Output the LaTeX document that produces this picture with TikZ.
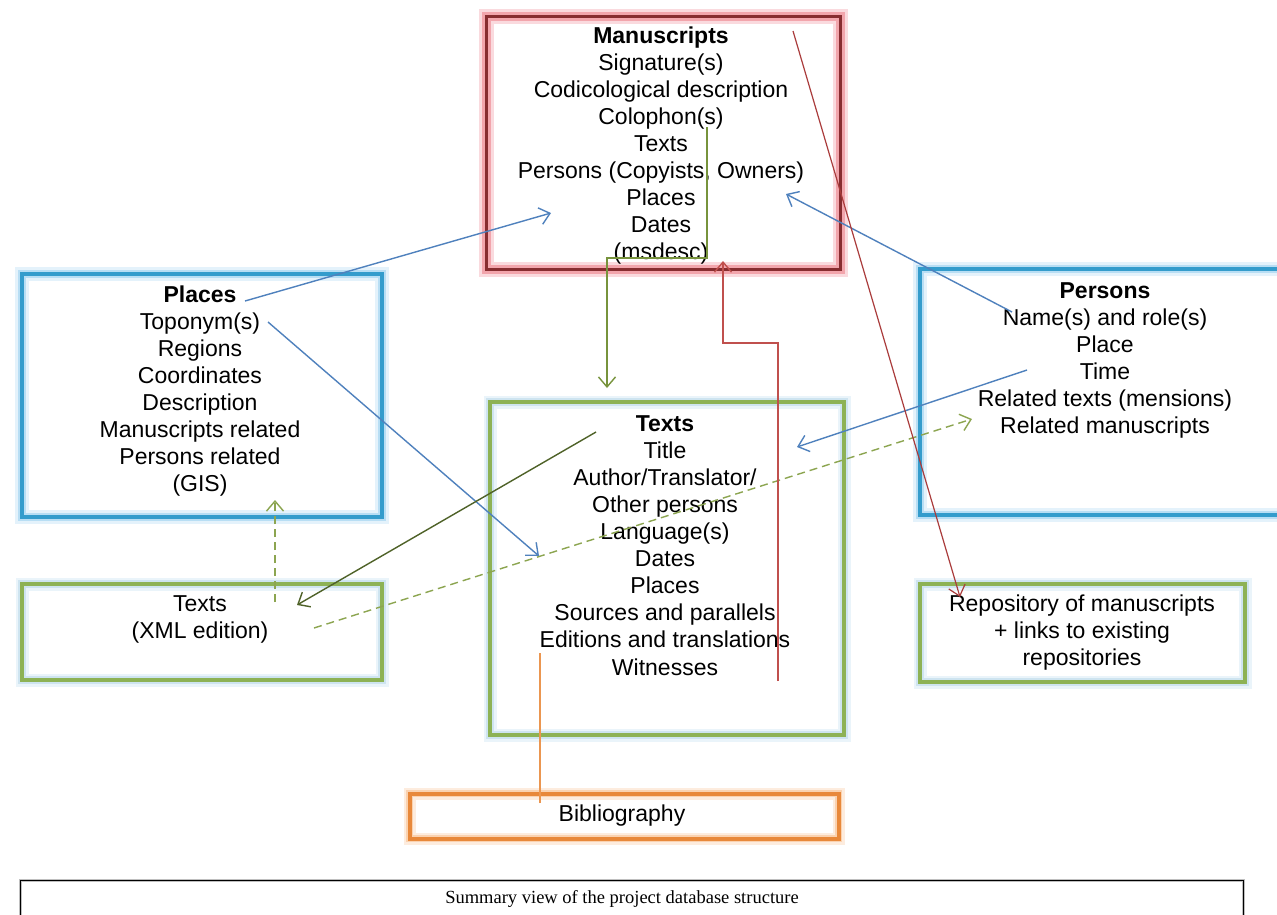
\documentclass[tikz,border=0pt]{standalone}
\usepackage{fontspec}
\setmainfont{Liberation Sans}
\newfontfamily\capfont{Liberation Serif}
\usetikzlibrary{arrows.meta}
\definecolor{bred}{RGB}{135,45,48}
\definecolor{gred}{RGB}{242,165,172}
\definecolor{gred2}{RGB}{250,218,222}
\definecolor{bblue}{RGB}{52,156,204}
\definecolor{gblue}{RGB}{184,222,244}
\definecolor{gblue2}{RGB}{228,242,251}
\definecolor{bgreen}{RGB}{141,178,85}
\definecolor{ggreen}{RGB}{206,228,240}
\definecolor{ggreen2}{RGB}{234,244,250}
\definecolor{borange}{RGB}{232,136,58}
\definecolor{gorange}{RGB}{250,210,176}
\definecolor{gorange2}{RGB}{253,236,222}
\definecolor{lblue}{RGB}{79,129,189}
\definecolor{lolive}{RGB}{119,147,60}
\definecolor{ldgreen}{RGB}{79,98,40}
\definecolor{ldash}{RGB}{140,165,80}
\definecolor{lred}{RGB}{170,60,60}
\definecolor{lred2}{RGB}{192,80,77}
\definecolor{lorange}{RGB}{235,150,80}
\begin{document}
\begin{tikzpicture}[x=1pt,y=-1pt,
  box/.style={rectangle,inner sep=0pt,anchor=north west},
  redbox/.style={box,draw=bred,line width=2.6pt,preaction={draw=gred2,line width=15pt},preaction={draw=gred,line width=9pt}},
  bluebox/.style={box,draw=bblue,line width=4pt,preaction={draw=gblue2,line width=14pt},preaction={draw=gblue,line width=8pt}},
  greenbox/.style={box,draw=bgreen,line width=4pt,preaction={draw=ggreen2,line width=13pt},preaction={draw=ggreen,line width=8pt}},
  orangebox/.style={box,draw=borange,line width=3.5pt,preaction={draw=gorange2,line width=12pt},preaction={draw=gorange,line width=7pt}},
  txt/.style={align=center,inner sep=0pt,anchor=north,font=\fontsize{23}{27.1}\selectfont},
  conn/.style={line width=1.4pt,-{Straight Barb[length=10pt,width=17pt]}},
  bluearrow/.style={conn,draw=lblue},
  plain/.style={line width=1.4pt}
]
\useasboundingbox (0,0) rectangle (1277,914);
\clip (0,0) rectangle (1277,914);
\fill[white] (0,0) rectangle (1277,914);

% boxes
\node[redbox,minimum width=354,minimum height=253] (ms) at (485,15) {};
\node[bluebox,minimum width=360,minimum height=243] (pl) at (20,272) {};
\node[greenbox,minimum width=360,minimum height=96] (xml) at (20,582) {};
\node[greenbox,minimum width=354,minimum height=333] (tx) at (488,400) {};
\node[bluebox,minimum width=374,minimum height=246] (pe) at (918,267) {};
\node[greenbox,minimum width=325,minimum height=98] (rep) at (918,582) {};
\node[orangebox,minimum width=429,minimum height=45] (bib) at (408,792) {};
\node[box,draw=black,line width=1.3pt,minimum width=1223,minimum height=60,preaction={draw=black!25,line width=3.5pt}] (cap) at (20,880) {};

% texts
\node[txt] (mst) at (661,24) {\strut\textbf{Manuscripts}\\Signature(s)\\Codicological description\\Colophon(s)\\Texts\\Persons (Copyists, Owners)\\Places\\Dates\\(msdesc)};
\node[txt] (plt) at (200,283) {\strut\textbf{Places}\\Toponym(s)\\Regions\\Coordinates\\Description\\Manuscripts related\\Persons related\\(GIS)};
\node[txt] (xmlt) at (200,592) {\strut Texts\\(XML edition)};
\node[txt] (txt) at (665,412) {\strut\textbf{Texts}\\Title\\Author/Translator/\\Other persons\\Language(s)\\Dates\\Places\\Sources and parallels\\Editions and translations\\Witnesses};
\node[txt] (pet) at (1105,279) {\strut\textbf{Persons}\\Name(s) and role(s)\\Place\\Time\\Related texts (mensions)\\Related manuscripts};
\node[txt] (rept) at (1082,592) {\strut Repository of manuscripts\\+ links to existing\\repositories};
\node[txt] (bibt) at (622,802) {\strut Bibliography};
\node[inner sep=0pt,font=\capfont\fontsize{18.5}{21}\selectfont] (capt) at (622,899) {Summary view of the project database structure};

% connector end points
\coordinate (plS) at (245,301);
\coordinate (msW) at (551,213);
\coordinate (peS) at (1012,312);
\coordinate (msE) at (786,194);
\coordinate (topS) at (268,322);
\coordinate (txW) at (539,556);
\coordinate (timeS) at (1027,370);
\coordinate (txE) at (797,447);
\coordinate (colS) at (707,127);
\coordinate (txTop) at (607,388);
\coordinate (txS) at (596,432);
\coordinate (xmlE) at (297,605);
\coordinate (xmlS) at (314,628);
\coordinate (peW) at (972,419);
\coordinate (xmlN) at (275,602);
\coordinate (plB) at (275,500);
\coordinate (msR) at (793,31);
\coordinate (repN) at (960,597);
\coordinate (txR) at (778,681);
\coordinate (msB) at (723,261);
\coordinate (bibS) at (540,803);
\coordinate (txB) at (540,653);

% connectors
\draw[bluearrow] (plS) -- (msW);
\draw[bluearrow] (peS) -- (msE);
\draw[bluearrow] (topS) -- (txW);
\draw[bluearrow] (timeS) -- (txE);
\draw[conn,draw=lolive] (colS) |- (txTop |- 0,258) -- (txTop);
\draw[conn,draw=ldgreen] (txS) -- (xmlE);
\draw[conn,draw=ldash,dash pattern=on 8pt off 5pt] (xmlS) -- (peW);
\draw[conn,draw=ldash,dash pattern=on 8pt off 5pt] (xmlN) -- (plB);
\draw[conn,draw=lred,line width=1.2pt] (msR) -- (repN);
\draw[conn,draw=lred2] (txR) |- (msB |- 0,343) -- (msB);
\draw[plain,draw=lorange] (bibS) -- (txB);
\end{tikzpicture}
\end{document}
